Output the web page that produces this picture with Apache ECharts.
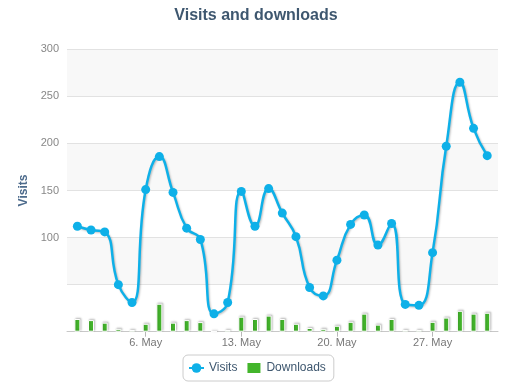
<!DOCTYPE html>
<html>
<head>
<meta charset="utf-8">
<script src="https://cdn.jsdelivr.net/npm/echarts@6/dist/echarts.min.js"></script>
<style>html,body{margin:0;padding:0;background:#fff}#c{width:512px;height:387px}</style>
</head>
<body>
<div id="c"></div>
<script>
var days = [1,2,3,4,5,6,7,8,9,10,11,12,13,14,15,16,17,18,19,20,21,22,23,24,25,26,27,28,29,30,31];
var visits = [112,108,106,50,31,151,186,148,110,98,19,31,149,112,152,126,101,47,38,76,114,124,92,115,29,28,84,197,265,216,187];
var downloads = [45,41,32,10,6,28,99,32,41,34,0,6,53,45,57,45,28,13,10,21,35,64,25,45,6,6,35,50,74,64,67];
var xTicks = [6,13,20,27];
var monthName = 'May';

var chart = echarts.init(document.getElementById('c'), null, {renderer:'canvas'});
chart.setOption({
  animation: false,
  backgroundColor: '#fff',
  textStyle: {fontFamily: 'Liberation Sans, Arial, sans-serif'},
  title: {
    text: 'Visits and downloads',
    left: 'center',
    top: 3,
    textStyle: {color: '#3e576f', fontSize: 16, fontWeight: 'bold', fontFamily: 'Liberation Sans, Arial, sans-serif'}
  },
  legend: {
    left: 183,
    top: 355,
    data: [{name: 'Visits'}, {name: 'Downloads', icon: 'rect'}],
    itemWidth: 15,
    itemHeight: 12,
    itemGap: 8,
    padding: [6, 8, 6, 5],
    borderColor: '#cccccc',
    borderWidth: 1,
    borderRadius: 5,
    textStyle: {color: '#3e576f', fontSize: 12, fontFamily: 'Liberation Sans, Arial, sans-serif'}
  },
  grid: {left: 67, right: 14, top: 49.3, bottom: 55.3},
  xAxis: {
    type: 'value',
    min: 0.24,
    max: 31.79,
    splitLine: {show: false},
    axisLine: {show: true, lineStyle: {color: '#c8c8c8', width: 1}},
    axisTick: {show: true, customValues: xTicks, length: 5, lineStyle: {color: '#b8b8b8'}},
    axisLabel: {
      customValues: xTicks,
      color: '#777',
      fontSize: 11,
      margin: 6,
      formatter: function (v) { return v + '. ' + monthName; }
    }
  },
  yAxis: [{
    type: 'value',
    min: 0,
    max: 300,
    interval: 50,
    name: 'Visits',
    nameLocation: 'middle',
    nameGap: 34,
    nameRotate: 90,
    nameTextStyle: {color: '#4d6b8c', fontWeight: 'bold', fontSize: 12},
    axisLine: {show: false},
    axisTick: {show: false},
    axisLabel: {
      color: '#888',
      fontSize: 11,
      margin: 8,
      formatter: function (v) { return v >= 100 ? String(v) : ''; }
    },
    splitLine: {lineStyle: {color: '#e2e2e2', width: 1}},
    splitArea: {show: true, areaStyle: {color: ['#ffffff', '#f8f8f8']}}
  }, {
    type: 'value',
    min: 0,
    max: 1000,
    show: false,
    splitLine: {show: false}
  }],
  series: [{
    name: 'Visits',
    type: 'line',
    z: 3,
    smooth: 0.5,
    yAxisIndex: 0,
    data: days.map(function (d, i) { return [d, visits[i]]; }),
    symbol: 'circle',
    symbolSize: 9,
    color: '#0eb0e8',
    lineStyle: {width: 2.5, color: '#0eb0e8', shadowColor: 'rgba(0,0,0,0.25)', shadowBlur: 2, shadowOffsetX: 1, shadowOffsetY: 1},
    itemStyle: {color: '#0eb0e8'}
  }, {
    name: 'Downloads',
    type: 'bar',
    z: 2,
    yAxisIndex: 1,
    barWidth: 6,
    data: days.map(function (d, i) { return [d, downloads[i]]; }),
    color: '#43b52b',
    itemStyle: {color: '#43b52b', borderColor: '#ffffff', borderWidth: 1, shadowColor: 'rgba(0,0,0,0.22)', shadowBlur: 2, shadowOffsetX: 1, shadowOffsetY: -1}
  }]
});
</script>
</body>
</html>
